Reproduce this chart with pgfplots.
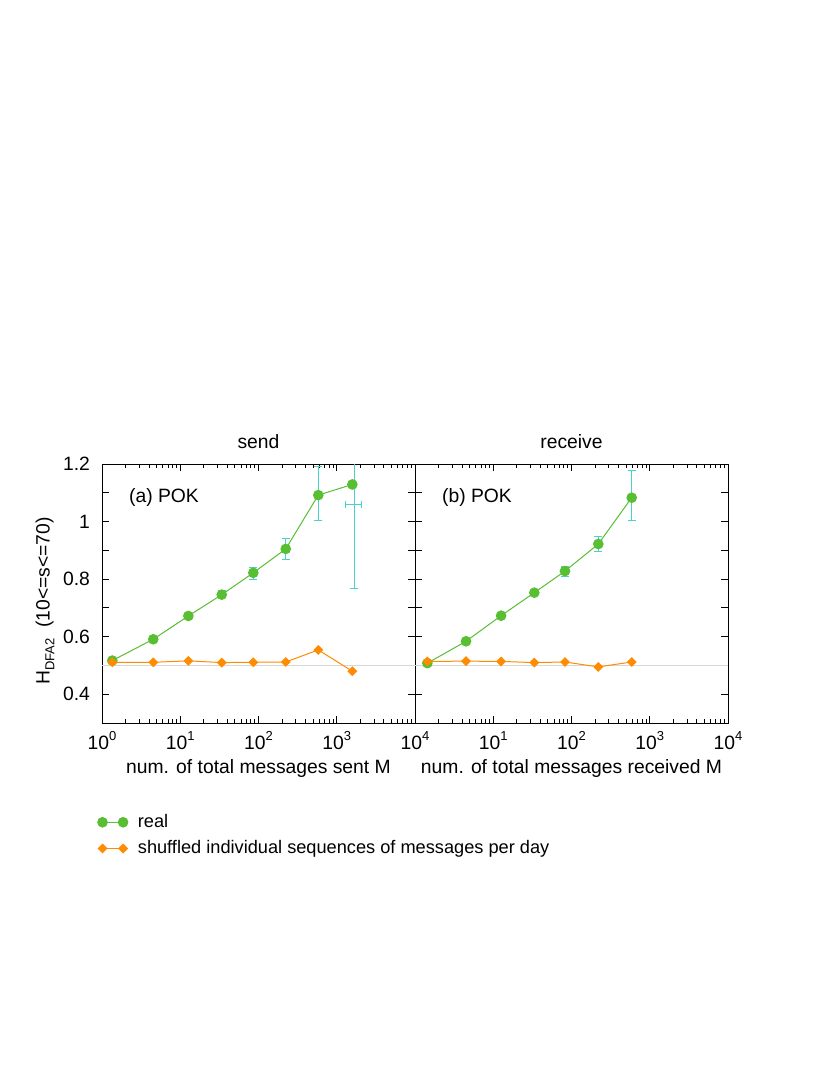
\documentclass[border=0pt]{standalone}
\usepackage{fontspec}
\setmainfont{Liberation Sans}
\usepackage{pgfplots}
\pgfplotsset{compat=1.18}

\definecolor{realgreen}{RGB}{88,190,50}
\definecolor{shuforange}{RGB}{255,140,0}
\definecolor{errcyan}{RGB}{72,210,205}
\definecolor{halfgrey}{RGB}{215,215,215}

% 10^n tick labels in the text font
\newcommand{\ep}[1]{10\raisebox{0.85ex}{\fontsize{6.5}{7}\selectfont #1}}

\begin{document}
\begin{tikzpicture}[font=\fontsize{9.65}{11.5}\selectfont]
\path (0pt,0pt) rectangle (415pt,-537.5pt);

% ---- (a) send
\begin{axis}[at={(51pt,-361.5pt)}, anchor=south west,
  xmode=log, xmin=1, xmax=10000, ymin=0.3, ymax=1.2,
  scale only axis, width=156.5pt, height=129.5pt,
  xtick={1,10,100,1000,10000},
  ytick={0.3,0.4,0.5,0.6,0.7,0.8,0.9,1.0,1.1,1.2},
  tick align=inside,
  major tick length=3.5pt, minor tick length=2pt,
  tick style={black, line width=0.5pt},
  axis line style={line width=0.5pt},
  xticklabel style={anchor=base, yshift=-13pt},
  yticklabel style={xshift=-2.5pt},
  title style={at={(0.5,1)}, anchor=base, yshift=2pt},
  xlabel style={at={(0.5,0)}, anchor=base, yshift=-25pt},
  title={send},
  xlabel={num. of total messages sent M},
  ylabel={H\raisebox{-0.45ex}{\fontsize{6.5}{7}\selectfont DFA2}\ \ (10<=s<=70)},
  ylabel style={at={(axis description cs:-0.182,0.471)}, anchor=center},
  xticklabels={\ep{0},\ep{1},\ep{2},\ep{3},\ep{4}},
  yticklabels={,0.4,,0.6,,0.8,,1,,1.2},
  legend style={draw=none, fill=none, at={(axis description cs:-0.015,-0.335)},
    anchor=north west, inner sep=0pt, row sep=1pt,
    font=\fontsize{9.1}{11}\selectfont,
    /tikz/every odd column/.append style={column sep=3pt}},
  legend cell align=left,
  legend image code/.code={\draw[mark repeat=2,mark phase=1,#1] plot coordinates {(0pt,0pt) (5.15pt,0pt) (10.3pt,0pt)};},
]
\addplot[halfgrey, line width=0.6pt, forget plot] coordinates {(1,0.5) (10000,0.5)};
\addplot[realgreen, line width=0.5pt, mark=*, mark size=2.4pt,
    mark options={fill=realgreen, draw=realgreen}] coordinates {
  (1.355,0.517) (4.52,0.591) (12.7,0.672) (33.9,0.746)
  (85.8,0.822) (223,0.905) (581,1.092) (1581,1.129)};
\addlegendentry{real}
\addplot[shuforange, line width=0.5pt, mark=square*, mark size=1.5pt,
    mark options={fill=shuforange, draw=shuforange, rotate=45}] coordinates {
  (1.355,0.511) (4.52,0.511) (12.7,0.516) (33.9,0.510)
  (85.8,0.511) (223,0.512) (581,0.554) (1581,0.480)};
\addlegendentry{shuffled individual sequences of messages per day}
\addplot[draw=none, mark=none, forget plot,
  error bars/.cd, y dir=both, y explicit,
  error bar style={draw=errcyan, line width=0.5pt},
  error mark=-,
  error mark options={draw=errcyan, mark size=2pt, line width=0.5pt, rotate=90}]
  coordinates {
  (12.7,0.672) +- (0,0.006)
  (33.9,0.747) +- (0,0.012)
  (85.8,0.820) +- (0,0.020)
  (223,0.905) +- (0,0.036)
  (581,1.098) +- (0,0.095)
  (1667,1.061) +- (0,0.294)};
\addplot[errcyan, line width=0.5pt, mark=|, mark size=1.75pt, forget plot]
  coordinates {(1303,1.061) (2073,1.061)};
\node[anchor=west] at (rel axis cs:0.064,0.869) {(a) POK};
\end{axis}

% ---- (b) receive
\begin{axis}[at={(207.5pt,-361.5pt)}, anchor=south west,
  xmode=log, xmin=1, xmax=10000, ymin=0.3, ymax=1.2,
  scale only axis, width=156.5pt, height=129.5pt,
  xtick={1,10,100,1000,10000},
  ytick={0.3,0.4,0.5,0.6,0.7,0.8,0.9,1.0,1.1,1.2},
  tick align=inside,
  major tick length=3.5pt, minor tick length=2pt,
  tick style={black, line width=0.5pt},
  axis line style={line width=0.5pt},
  xticklabel style={anchor=base, yshift=-13pt},
  title style={at={(0.5,1)}, anchor=base, yshift=2pt},
  xlabel style={at={(0.5,0)}, anchor=base, yshift=-25pt},
  title={receive},
  xlabel={num. of total messages received M},
  xticklabels={,\ep{1},\ep{2},\ep{3},\ep{4}},
  yticklabels={},
]
\addplot[halfgrey, line width=0.6pt, forget plot] coordinates {(1,0.5) (10000,0.5)};
\addplot[realgreen, line width=0.5pt, mark=*, mark size=2.4pt,
    mark options={fill=realgreen, draw=realgreen}] coordinates {
  (1.44,0.508) (4.49,0.584) (12.6,0.673) (33.5,0.753)
  (82.6,0.828) (220,0.922) (588,1.083)};
\addplot[shuforange, line width=0.5pt, mark=square*, mark size=1.5pt,
    mark options={fill=shuforange, draw=shuforange, rotate=45}] coordinates {
  (1.44,0.514) (4.49,0.515) (12.6,0.514) (33.5,0.510)
  (82.6,0.512) (220,0.495) (588,0.512)};
\addplot[draw=none, mark=none, forget plot,
  error bars/.cd, y dir=both, y explicit,
  error bar style={draw=errcyan, line width=0.5pt},
  error mark=-,
  error mark options={draw=errcyan, mark size=2pt, line width=0.5pt, rotate=90}]
  coordinates {
  (33.5,0.753) +- (0,0.008)
  (82.6,0.826) +- (0,0.017)
  (220,0.9225) +- (0,0.026)
  (588,1.090) +- (0,0.087)};
\node[anchor=west] at (rel axis cs:0.064,0.869) {(b) POK};
\end{axis}
\end{tikzpicture}
\end{document}
